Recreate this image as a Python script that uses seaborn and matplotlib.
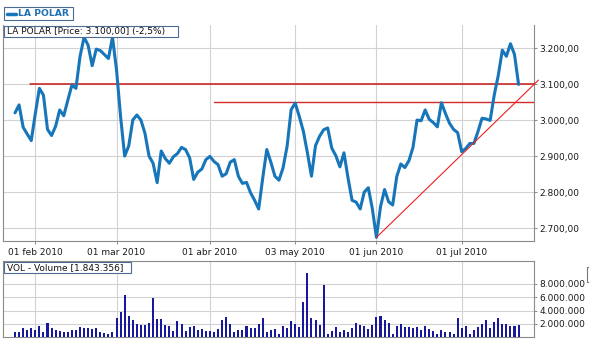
import numpy as np
import pandas as pd
import matplotlib
matplotlib.use("Agg")
import matplotlib.pyplot as plt
import seaborn as sns
from matplotlib.ticker import FuncFormatter, FixedLocator
from matplotlib.patches import Rectangle
from matplotlib.lines import Line2D

# ---------------- data ----------------
price = [3021, 3043, 2981, 2962, 2944, 3019, 3089, 3070, 2975, 2958,
         2984, 3029, 3013, 3056, 3098, 3089, 3177, 3231, 3209, 3152,
         3198, 3194, 3183, 3172, 3231, 3140, 3010, 2901, 2929, 3001,
         3015, 3001, 2964, 2901, 2881, 2827, 2915, 2894, 2881, 2899,
         2908, 2925, 2919, 2896, 2836, 2856, 2865, 2891, 2900, 2886,
         2877, 2845, 2852, 2884, 2891, 2845, 2825, 2828, 2799, 2778,
         2754, 2840, 2919, 2884, 2845, 2834, 2868, 2928, 3030, 3048,
         3011, 2970, 2910, 2845, 2930, 2956, 2974, 2979, 2923, 2902,
         2871, 2910, 2840, 2778, 2773, 2754, 2801, 2813, 2754, 2675,
         2760, 2808, 2774, 2765, 2844, 2879, 2869, 2888, 2925, 3001,
         2999, 3029, 3003, 2994, 2982, 3049, 3019, 2992, 2975, 2966,
         2913, 2922, 2936, 2936, 2969, 3006, 3004, 3000, 3070, 3125,
         3195, 3178, 3213, 3183, 3100]

volume_m = [0.85, 0.85, 1.45, 1.1, 1.45, 1.15, 1.7, 0.85, 2.15, 1.35,
            1.15, 0.95, 0.85, 0.85, 1.15, 1.15, 1.55, 1.35, 1.45, 1.2,
            1.45, 0.85, 0.65, 0.55, 0.75, 2.95, 3.85, 6.35, 3.25, 2.65,
            2.0, 1.85, 1.85, 2.15,
            5.85, 2.75, 2.75, 1.85, 1.7, 0.95, 2.45, 1.95, 0.95, 1.6,
            1.7, 1.1, 1.25, 0.95, 0.95, 0.75, 1.25, 2.6, 3.05, 1.95,
            0.85, 1.1, 1.1, 1.7, 1.35, 1.45, 1.95, 2.85, 0.85, 1.05,
            1.25, 0.45, 1.7, 1.35, 2.45, 1.95, 1.55,
            5.35, 9.6, 2.95, 2.6, 1.85, 7.85, 0.5, 1.0, 1.6, 0.85,
            1.1, 0.85, 1.35, 2.2, 1.85, 1.7, 1.2, 1.85, 3.1, 3.2,
            2.6, 2.2, 0.5, 1.7, 2.0, 1.6, 1.5, 1.35, 1.6, 1.1,
            1.7, 1.25, 1.0, 0.5, 1.1, 0.85, 0.85, 0.5, 2.85, 1.45,
            1.7, 0.5, 1.1, 1.6, 2.0, 2.6, 1.35, 2.35, 2.85, 2.0,
            1.95, 1.7, 1.7, 1.843]

tick_pos = [5, 25, 48, 69, 89, 110]
tick_labels = ["01 feb 2010", "01 mar 2010", "01 abr 2010",
               "03 may 2010", "01 jun 2010", "01 jul 2010"]
price_ticks = [2700, 2800, 2900, 3000, 3100, 3200]
vol_ticks = [2e6, 4e6, 6e6, 8e6]

resist_hi = [3100, 3100]
resist_hi_x = [3.7, 128.0]
resist_lo = [3050, 3050]
resist_lo_x = [49.0, 128.0]
trend_x = [89.0, 128.9]
trend_y = [2675, 3112]

assert len(price) == len(volume_m)
idx = np.arange(len(price))
df = pd.DataFrame({"i": idx, "price": price, "vol": np.array(volume_m) * 1e6})

# ---------------- figure ----------------
sns.set_style("white")
plt.rcParams["font.family"] = ["DejaVu Sans"]
W, H = 589, 342
fig = plt.figure(figsize=(W / 100, H / 100), dpi=100)
fig.patch.set_facecolor("white")


def pxbox(x0, y0, x1, y1):
    return [x0 / W, 1 - y1 / H, (x1 - x0) / W, (y1 - y0) / H]


ax1 = fig.add_axes(pxbox(3, 25, 534, 241))
ax2 = fig.add_axes(pxbox(3, 260.5, 534, 337.3))

blue = "#1776ba"
navy = "#18189c"
grid_c = "#d2d2d2"
spine_c = "#8a8a8a"

# price line
sns.lineplot(data=df, x="i", y="price", ax=ax1, color=blue, lw=2.2, zorder=4)
# support / resistance / trend lines
ax1.plot(resist_hi_x, resist_hi, color="#c81818", lw=1.1, zorder=3)
ax1.plot(resist_lo_x, resist_lo, color="#d42a2a", lw=1.0, zorder=3)
ax1.plot(trend_x, trend_y, color="#ee2020", lw=0.8, zorder=5, clip_on=False)

# volume bars
sns.barplot(data=df, x="i", y="vol", ax=ax2, native_scale=True, color=navy,
            saturation=1, width=0.5, edgecolor="none", zorder=3)

xlim = (-2.96, 127.8)
for ax in (ax1, ax2):
    ax.set_xlim(*xlim)
    ax.set_xlabel("")
    ax.set_ylabel("")
    ax.xaxis.set_major_locator(FixedLocator(tick_pos))
    ax.grid(True, color=grid_c, lw=0.8, zorder=0)
    ax.set_axisbelow(True)
    for s in ax.spines.values():
        s.set_color(spine_c)
        s.set_linewidth(0.8)
    ax.yaxis.tick_right()
    ax.tick_params(axis="both", length=2.5, width=0.7, color=spine_c,
                   labelsize=6.5, labelcolor="#1a1a1a", pad=1.5)

ax1.spines["top"].set_visible(False)
ax1.set_ylim(2665, 3265)
ax1.yaxis.set_major_locator(FixedLocator(price_ticks))
ax1.yaxis.set_major_formatter(FuncFormatter(
    lambda v, p: f"{int(round(v)):,}".replace(",", ".") + ",00"))
ax1.set_xticklabels(tick_labels)
ax1.tick_params(axis="x", pad=2.5, bottom=True)

ax2.set_ylim(0, 11.52e6)
ax2.yaxis.set_major_locator(FixedLocator(vol_ticks))
ax2.yaxis.set_major_formatter(FuncFormatter(
    lambda v, p: f"{int(round(v)):,}".replace(",", ".")))
ax2.tick_params(axis="x", bottom=False, labelbottom=False)


# ---------------- label boxes ----------------
def fig_rect(x0, y0, x1, y1, ec, lw=0.8, fc="white"):
    r = Rectangle((x0 / W, 1 - y1 / H), (x1 - x0) / W, (y1 - y0) / H,
                  transform=fig.transFigure, facecolor=fc, edgecolor=ec,
                  lw=lw, zorder=10)
    fig.add_artist(r)


box_c = "#4d6a93"
# header legend
fig_rect(3.5, 7.5, 73, 20, box_c)
fig.add_artist(Line2D([7 / W, 16 / W], [1 - 14 / H, 1 - 14 / H],
                      transform=fig.transFigure, color=blue, lw=2.5, zorder=11))
fig.text(18.5 / W, 1 - 14 / H, "LA POLAR", fontsize=6.7, fontweight="bold",
         color="#1f6fb2", va="center", ha="left", zorder=11)

# price box
fig_rect(3.5, 26, 178, 37, box_c)
fig.text(7 / W, 1 - 31.5 / H, "LA POLAR [Price: 3.100,00] (-2,5%)",
         fontsize=6.5, color="#111111", va="center", ha="left", zorder=11)

# volume box
fig_rect(3.5, 262, 131, 273, box_c)
fig.text(7 / W, 1 - 267.5 / H, "VOL - Volume [1.843.356]",
         fontsize=6.5, color="#111111", va="center", ha="left", zorder=11)

# partially visible element at right edge
fig_rect(587, 267, 600, 282, "#777777", lw=0.8)

fig.savefig("out.png", dpi=100, facecolor="white")
